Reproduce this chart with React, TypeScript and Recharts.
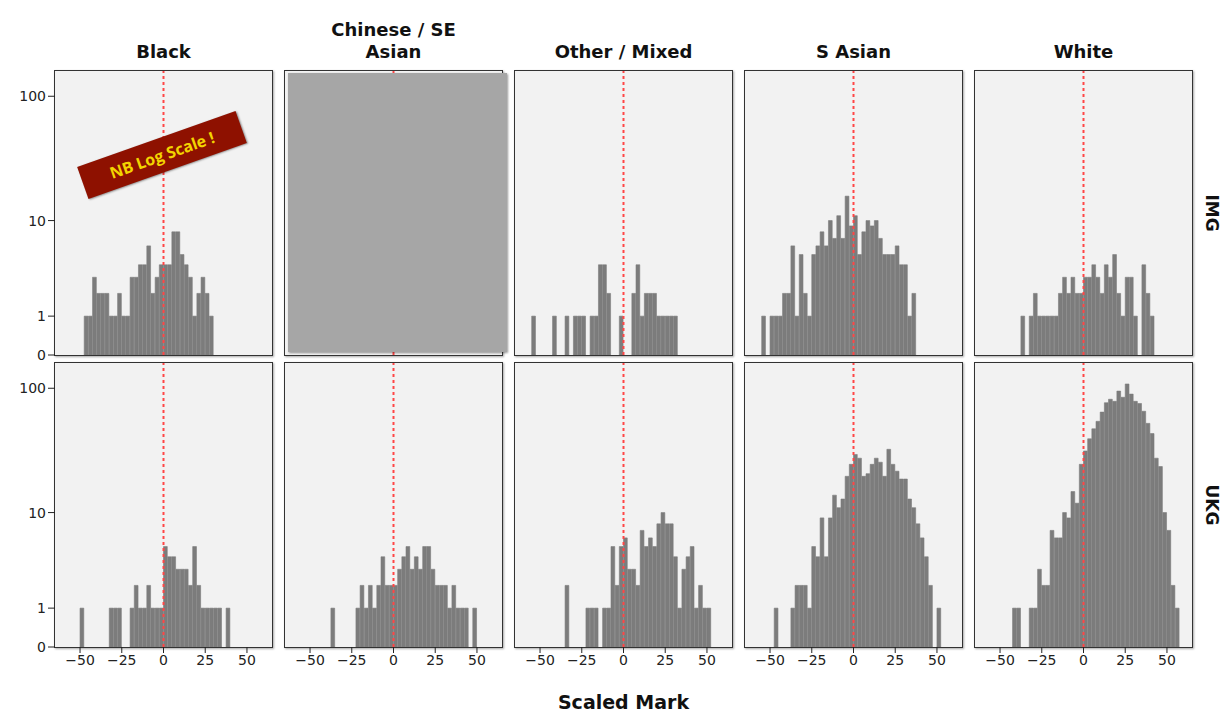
import React from "react";
import { BarChart, Bar, XAxis, YAxis, ReferenceLine } from "recharts";

// histogram bins (lower edge, width 2.5) of the scaled mark
const binStarts = [
  -65, -62.5, -60, -57.5, -55, -52.5, -50, -47.5, -45, -42.5, -40, -37.5, -35,
  -32.5, -30, -27.5, -25, -22.5, -20, -17.5, -15, -12.5, -10, -7.5, -5, -2.5,
  0, 2.5, 5, 7.5, 10, 12.5, 15, 17.5, 20, 22.5, 25, 27.5, 30,
  32.5, 35, 37.5, 40, 42.5, 45, 47.5, 50, 52.5, 55, 57.5, 60, 62.5,
];
const BIN_W = 2.5;

const groups = ["Black", "Chinese / SE\nAsian", "Other / Mixed", "S Asian", "White"];
const rowLabels = ["IMG", "UKG"];
const xTicks = [-50, -25, 0, 25, 50];
const yTickCounts = [0, 1, 10, 100];

// counts per bin, IMG row
const blackIMG = [
  0, 0, 0, 0, 0, 0, 0, 1, 1, 3, 2, 2, 2,
  1, 1, 2, 1, 1, 3, 3, 4, 4, 6, 2, 3, 4,
  4, 4, 8, 8, 5, 4, 3, 1, 2, 3, 2, 1, 0,
  0, 0, 0, 0, 0, 0, 0, 0, 0, 0, 0, 0, 0,
];
const chineseIMG: number[] = [];
const otherIMG = [
  0, 0, 0, 0, 1, 0, 0, 0, 0, 1, 0, 0, 1,
  0, 1, 1, 1, 0, 1, 1, 4, 4, 2, 0, 0, 1,
  0, 0, 2, 4, 1, 2, 2, 2, 1, 1, 1, 1, 1,
  0, 0, 0, 0, 0, 0, 0, 0, 0, 0, 0, 0, 0,
];
const sAsianIMG = [
  0, 0, 0, 0, 1, 0, 1, 1, 1, 2, 2, 6, 1,
  5, 2, 1, 5, 6, 8, 6, 10, 7, 11, 7, 16, 9,
  11, 5, 8, 10, 9, 10, 7, 5, 5, 5, 6, 4, 4,
  1, 2, 0, 0, 0, 0, 0, 0, 0, 0, 0, 0, 0,
];
const whiteIMG = [
  0, 0, 0, 0, 0, 0, 0, 0, 0, 0, 0, 1, 0,
  1, 2, 1, 1, 1, 1, 1, 2, 3, 2, 3, 2, 2,
  3, 3, 4, 3, 2, 4, 3, 5, 2, 1, 3, 3, 1,
  0, 4, 2, 1, 0, 0, 0, 0, 0, 0, 0, 0, 0,
];

// counts per bin, UKG row
const blackUKG = [
  0, 0, 0, 0, 0, 0, 1, 0, 0, 0, 0, 0, 0,
  1, 1, 1, 0, 0, 1, 2, 1, 1, 2, 1, 1, 1,
  5, 4, 4, 3, 3, 3, 2, 5, 2, 1, 1, 1, 1,
  1, 0, 1, 0, 0, 0, 0, 0, 0, 0, 0, 0, 0,
];
const chineseUKG = [
  0, 0, 0, 0, 0, 0, 0, 0, 0, 0, 0, 1, 0,
  0, 0, 0, 0, 1, 2, 1, 2, 1, 2, 4, 2, 2,
  2, 3, 4, 5, 3, 4, 3, 5, 5, 3, 2, 2, 2,
  1, 2, 1, 1, 1, 0, 1, 0, 0, 0, 0, 0, 0,
];
const otherUKG = [
  0, 0, 0, 0, 0, 0, 0, 0, 0, 0, 0, 0, 2,
  0, 0, 0, 0, 1, 1, 1, 0, 1, 1, 5, 2, 5,
  6, 3, 3, 2, 7, 5, 6, 5, 8, 10, 8, 8, 4,
  1, 3, 4, 5, 1, 2, 1, 1, 0, 0, 0, 0, 0,
];
const sAsianUKG = [
  0, 0, 0, 0, 0, 0, 0, 1, 0, 0, 0, 1, 2,
  2, 2, 1, 5, 4, 9, 4, 9, 14, 11, 13, 20, 25,
  30, 28, 20, 21, 25, 28, 26, 20, 33, 25, 22, 19, 19,
  13, 11, 8, 6, 4, 2, 0, 1, 0, 0, 0, 0, 0,
];
const whiteUKG = [
  0, 0, 0, 0, 0, 0, 0, 0, 0, 1, 1, 0, 0,
  1, 1, 3, 2, 2, 7, 6, 6, 10, 9, 15, 12, 25,
  32, 40, 48, 55, 65, 77, 82, 79, 95, 85, 108, 90, 79,
  76, 66, 53, 44, 28, 24, 10, 7, 2, 1, 0, 0, 0,
];

const panelCounts = [
  [blackIMG, chineseIMG, otherIMG, sAsianIMG, whiteIMG],
  [blackUKG, chineseUKG, otherUKG, sAsianUKG, whiteUKG],
];

const FONT = "DejaVu Sans";
const BAR_COLOR = "#7c7c7c";
const COL_X = [55, 285, 515, 745, 975];
const ROW_Y = [71, 363];
const PANEL_W = 217;
const PANEL_H = 284;
const Y_AXIS_W = 50;
const X_AXIS_H = 32;
const PAD_B = 10; // room for the "0" label under the top row
const Y_MAX = 2.2; // log10(count + 1)
const X_DOMAIN: [number, number] = [-65, 65];

const toLog = (c: number) => Math.log10(c + 1);
const yTicks = yTickCounts.map(toLog);

function Panel({ counts, col, row }: { counts: number[]; col: number; row: number }) {
  const showY = col === 0;
  const showX = row === 1;
  const data = binStarts.map((b, i) => ({ mid: b + BIN_W / 2, v: toLog(counts[i] ?? 0) }));
  const left = COL_X[col] - (showY ? Y_AXIS_W : 0);
  const top = ROW_Y[row];
  const tick = { fill: "#222", fontSize: 14, fontFamily: FONT };
  const barPx = (PANEL_W * BIN_W) / (X_DOMAIN[1] - X_DOMAIN[0]);

  return (
    <>
      <div
        style={{
          position: "absolute",
          left: COL_X[col] - 1,
          top: top - 1,
          width: PANEL_W,
          height: PANEL_H,
          border: "1px solid #333",
          background: "#f2f2f2",
          boxShadow: "1px 1px 2px rgba(0,0,0,0.35)",
        }}
      />
      <div style={{ position: "absolute", left, top }}>
        <BarChart
          width={PANEL_W + (showY ? Y_AXIS_W : 0)}
          height={PANEL_H + (showX ? X_AXIS_H : PAD_B)}
          data={data}
          margin={{ top: 0, right: 0, bottom: showX ? 0 : PAD_B, left: 0 }}
          barCategoryGap={0}
          barGap={0}
        >
          <XAxis
            dataKey="mid"
            type="number"
            domain={X_DOMAIN}
            allowDataOverflow
            ticks={xTicks}
            interval={0}
            hide={!showX}
            height={X_AXIS_H}
            axisLine={false}
            tickSize={6}
            tickLine={{ stroke: "#222" }}
            tick={tick}
            tickFormatter={(v: number) => (v < 0 ? "\u2212" + Math.abs(v) : String(v))}
          />
          <YAxis
            type="number"
            domain={[0, Y_MAX]}
            allowDataOverflow
            ticks={yTicks}
            interval={0}
            hide={!showY}
            width={Y_AXIS_W}
            axisLine={false}
            tickSize={7}
            tickLine={{ stroke: "#222" }}
            tick={tick}
            tickFormatter={(v: number) => String(yTickCounts[yTicks.indexOf(v)] ?? "")}
          />
          <Bar
            dataKey="v"
            fill={BAR_COLOR}
            stroke={BAR_COLOR}
            strokeWidth={0.6}
            barSize={barPx}
            isAnimationActive={false}
          />
          <ReferenceLine x={0} stroke="#ff4646" strokeWidth={2} strokeDasharray="3 3" />
        </BarChart>
      </div>
    </>
  );
}

export default function App() {
  return (
    <div
      style={{
        position: "absolute",
        left: 0,
        top: 0,
        width: 1225,
        height: 713,
        background: "#fff",
        fontFamily: FONT,
        color: "#111",
      }}
    >
      {groups.map((g, c) => (
        <div
          key={g}
          style={{
            position: "absolute",
            left: COL_X[c],
            width: PANEL_W,
            top: g.includes("\n") ? 19 : 41,
            textAlign: "center",
            fontSize: 18,
            fontWeight: "bold",
            lineHeight: "22px",
            whiteSpace: "pre",
          }}
        >
          {g}
        </div>
      ))}

      {panelCounts.map((rowSet, r) =>
        rowSet.map((counts, c) => <Panel key={`${r}-${c}`} counts={counts} col={c} row={r} />)
      )}

      {/* blanked-out panel */}
      <div
        style={{
          position: "absolute",
          left: 288,
          top: 73,
          width: 219,
          height: 279,
          background: "#a6a6a6",
          boxShadow: "1px 1px 2px rgba(0,0,0,0.4)",
        }}
      />

      {/* annotation */}
      <div
        style={{
          position: "absolute",
          left: 78,
          top: 138,
          width: 168,
          height: 34,
          background: "#8e1100",
          transform: "rotate(-19.5deg)",
          boxShadow: "1px 1px 2px rgba(0,0,0,0.4)",
          color: "#f3d400",
          fontFamily: "Open Sans",
          fontWeight: "bold",
          fontSize: 16,
          lineHeight: "34px",
          textAlign: "center",
        }}
      >
        NB Log Scale !
      </div>

      {rowLabels.map((l, r) => (
        <div
          key={l}
          style={{
            position: "absolute",
            left: 1212 - 40,
            top: ROW_Y[r] + PANEL_H / 2 - 11,
            width: 80,
            height: 22,
            lineHeight: "22px",
            textAlign: "center",
            fontSize: 17,
            fontWeight: "bold",
            transform: "rotate(90deg)",
          }}
        >
          {l}
        </div>
      ))}

      <div
        style={{
          position: "absolute",
          left: 0,
          width: 1247,
          top: 690,
          textAlign: "center",
          fontSize: 19,
          fontWeight: "bold",
          lineHeight: "24px",
        }}
      >
        Scaled Mark
      </div>
    </div>
  );
}
